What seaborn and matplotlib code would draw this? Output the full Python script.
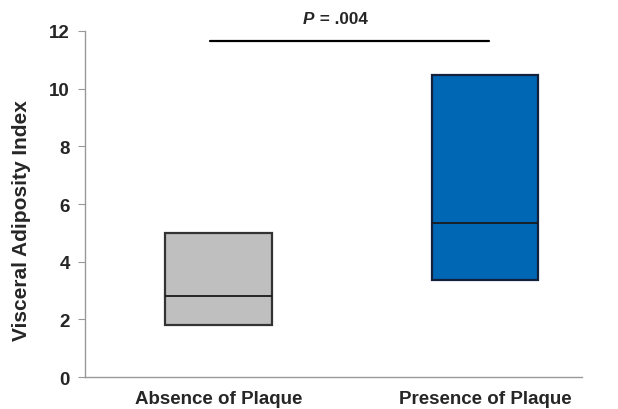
import matplotlib
matplotlib.use("Agg")
import matplotlib.pyplot as plt
import seaborn as sns
import pandas as pd

categories = ["Absence of Plaque", "Presence of Plaque"]
q1 = [1.80, 3.36]
median = [2.81, 5.33]
q3 = [4.99, 10.48]
colors = ["#BFBFBF", "#0067B5"]
edge_colors = ["#333333", "#14213D"]
p_text = ".004"
yticks = [0, 2, 4, 6, 8, 10, 12]

sns.set_style("white")
plt.rcParams["font.family"] = ["Liberation Sans", "DejaVu Sans"]

# Five-point sets whose quartiles reproduce the box edges and median
rows = []
for c, a, m, b in zip(categories, q1, median, q3):
    for v in (a, a, m, b, b):
        rows.append({"group": c, "value": v})
df = pd.DataFrame(rows)

fig = plt.figure(figsize=(6.18, 4.10), dpi=100)
ax = fig.add_axes([0.1375, 0.078, 0.8045, 0.844])

sns.boxplot(data=df, x="group", y="value", hue="group", order=categories,
            palette=dict(zip(categories, colors)), legend=False, saturation=1,
            width=0.40, whis=0, showcaps=False, showfliers=False,
            linewidth=1.6, ax=ax,
            medianprops=dict(color="#1a1a1a", linewidth=1.3),
            whiskerprops=dict(linewidth=0))

for patch, ec in zip(ax.patches, edge_colors):
    patch.set_edgecolor(ec)

ax.set_xlim(-0.5, 1.365)
ax.set_ylim(0, 12)
ax.set_yticks(yticks)
ax.set_yticklabels([str(t) for t in yticks], fontsize=13.5, fontweight="bold")
ax.set_xticks([0, 1])
ax.set_xticklabels(categories, fontsize=13.5, fontweight="bold")
ax.set_xticks([-0.5, 0.432, 1.365], minor=True)
ax.tick_params(axis="x", which="major", length=0, pad=9)
ax.tick_params(axis="x", which="minor", length=5, color="#999999", direction="out")
ax.tick_params(axis="y", length=5, color="#999999", direction="out", left=True, pad=6)
ax.set_xlabel("")
ax.set_ylabel("Visceral Adiposity Index", fontsize=15, fontweight="bold")
ax.yaxis.set_label_coords(-0.108, 0.454)

for side in ("top", "right"):
    ax.spines[side].set_visible(False)
for side in ("left", "bottom"):
    ax.spines[side].set_color("#999999")
    ax.spines[side].set_linewidth(1.0)

# significance bar
ax.plot([-0.032, 1.015], [11.65, 11.65], color="black", linewidth=1.6, clip_on=False)
ax.text(0.36, 12.45, "P", fontsize=12.3, fontweight="bold", fontstyle="italic",
        ha="right", va="center", clip_on=False)
ax.text(0.362, 12.45, " = " + p_text, fontsize=12.3, fontweight="bold",
        ha="left", va="center", clip_on=False)

fig.savefig("out.png", dpi=100)
